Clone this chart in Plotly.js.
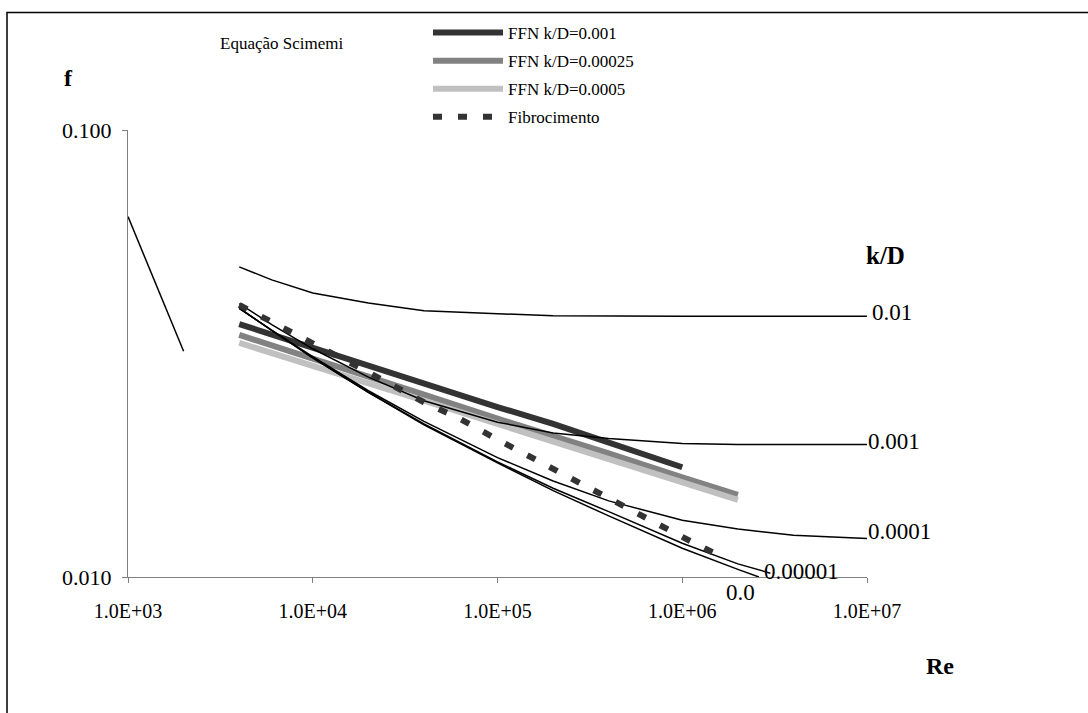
<!DOCTYPE html>
<html><head><meta charset="utf-8">
<script src="https://cdn.plot.ly/plotly-3.0.1.min.js"></script>
<style>html,body{margin:0;padding:0;background:#fff}</style>
</head><body>
<div id="chart" style="width:1088px;height:713px"></div>
<script>
// ---- data (Re, f) ----
var reLam = [1000, 2000];
var fLam = [0.064, 0.032];

var re01 = [4000, 6000, 10000, 20000, 40000, 80000, 200000, 1000000, 10000000];
var f01 = [0.0494, 0.0462, 0.0432, 0.0410, 0.0394, 0.0390, 0.0384, 0.0383, 0.0383];

var re001 = [4000, 6000, 10000, 20000, 40000, 100000, 200000, 400000, 1000000, 2000000, 10000000];
var f001 = [0.0409, 0.0367, 0.0324, 0.0280, 0.0248, 0.0222, 0.0210, 0.0204, 0.0199, 0.0198, 0.0198];

var re0001 = [4000, 6000, 10000, 20000, 40000, 100000, 200000, 400000, 1000000, 2000000, 4000000, 10000000];
var f0001 = [0.0400, 0.0356, 0.0311, 0.0261, 0.0223, 0.0185, 0.0164, 0.0148, 0.0134, 0.0128, 0.0124, 0.0122];

var re00001 = [4000, 6000, 10000, 20000, 40000, 100000, 200000, 400000, 1000000, 2000000, 3000000];
var f00001 = [0.0399, 0.0356, 0.0309, 0.0259, 0.0220, 0.0181, 0.0158, 0.0140, 0.0119, 0.0107, 0.0102];

var reSmooth = [4000, 6000, 10000, 20000, 40000, 100000, 200000, 400000, 1000000, 2000000, 2600000];
var fSmooth = [0.0399, 0.0356, 0.0309, 0.0259, 0.0219, 0.0180, 0.0156, 0.0137, 0.0116, 0.0104, 0.0100];

var reFFN1 = [4000, 10000, 20000, 40000, 80000, 100000, 200000, 400000, 1000000];
var fFFN1 = [0.0368, 0.0326, 0.0297, 0.0271, 0.0246, 0.0240, 0.0220, 0.0200, 0.0176];

var reFFN2 = [4000, 10000, 20000, 40000, 100000, 200000, 400000, 1000000, 2000000];
var fFFN2 = [0.0348, 0.0307, 0.0281, 0.0256, 0.0226, 0.0207, 0.0189, 0.0167, 0.01526];

var reFFN3 = [4000, 8000, 10000, 20000, 40000, 100000, 200000, 400000, 1000000, 2000000];
var fFFN3 = [0.0334, 0.0306, 0.0296, 0.0272, 0.0248, 0.0220, 0.0201, 0.01836, 0.01627, 0.01487];

var reFib = [4000, 6000, 10000, 20000, 40000, 60000, 100000, 200000, 400000, 600000, 1000000, 1600000];
var fFib = [0.0406, 0.0372, 0.0336, 0.0287, 0.0246, 0.0228, 0.0203, 0.01744, 0.01494, 0.01376, 0.01229, 0.01114];

var xTickVals = [1000, 10000, 100000, 1000000, 10000000];
var xTickText = ['1.0E+03', '1.0E+04', '1.0E+05', '1.0E+06', '1.0E+07'];
var yTickVals = [0.01, 0.1];
var yTickText = ['0.010', '0.100'];

var FONT = '"Liberation Serif", "Times New Roman", serif';

function thick(name, x, y, color, grp) {
  return {x: x, y: y, name: name, mode: 'lines', legendgroup: grp,
    line: {color: color, width: 6}, hoverinfo: 'skip'};
}
function thin(x, y) {
  return {x: x, y: y, mode: 'lines', showlegend: false,
    line: {color: '#000', width: 1.5}, hoverinfo: 'skip'};
}

var traces = [
  thick('FFN k/D=0.001', reFFN1, fFFN1, '#333333', 'a'),
  thick('FFN k/D=0.00025', reFFN2, fFFN2, '#828282', 'b'),
  thick('FFN k/D=0.0005', reFFN3, fFFN3, '#c0c0c0', 'c'),
  thin(reLam, fLam),
  thin(re01, f01),
  thin(re001, f001),
  thin(re0001, f0001),
  thin(re00001, f00001),
  thin(reSmooth, fSmooth),
  {x: reFib, y: fFib, name: 'Fibrocimento', mode: 'lines', legendgroup: 'd',
    line: {color: '#333333', width: 6, dash: '9px,16px'}, hoverinfo: 'skip'}
];

function px(p) { return (p - 128) / 739; }
function py(p) { return (577 - p) / 447; }
function ann(text, x, y, xa, size, bold) {
  return {text: bold ? '<b>' + text + '</b>' : text, xref: 'paper', yref: 'paper',
    x: px(x), y: py(y), xanchor: xa, yanchor: 'middle', showarrow: false,
    font: {family: FONT, size: size, color: '#000'}};
}

var layout = {
  width: 1088, height: 713,
  margin: {l: 128, r: 221, t: 130, b: 136},
  paper_bgcolor: '#fff', plot_bgcolor: '#fff',
  font: {family: FONT, size: 17, color: '#000'},
  xaxis: {type: 'log', range: [3, 7], tickvals: xTickVals, ticktext: xTickText,
    showgrid: false, zeroline: false, showline: true, linecolor: '#808080', linewidth: 1,
    ticks: 'outside', ticklen: 5, tickcolor: '#808080', ticklabelstandoff: 11,
    tickfont: {family: FONT, size: 20, color: '#000'}},
  yaxis: {type: 'log', range: [-2, -1], tickvals: yTickVals, ticktext: yTickText,
    showgrid: false, zeroline: false, showline: true, linecolor: '#808080', linewidth: 1,
    ticks: 'outside', ticklen: 5, tickcolor: '#808080', ticklabelstandoff: 6,
    tickfont: {family: FONT, size: 22, color: '#000'}},
  showlegend: true,
  legend: {x: px(428), y: py(15), xanchor: 'left', yanchor: 'top',
    bgcolor: 'rgba(0,0,0,0)', traceorder: 'grouped', tracegroupgap: 3, itemwidth: 70,
    font: {family: FONT, size: 17, color: '#000'}},
  shapes: [
    {type: 'rect', xref: 'paper', yref: 'paper', x0: px(7), x1: px(1100), y0: py(725), y1: py(12.5),
      line: {color: '#000', width: 1.5}, fillcolor: 'rgba(0,0,0,0)', layer: 'below'}
  ],
  annotations: [
    ann('f', 68, 78, 'center', 24, true),
    ann('Equação Scimemi', 218, 44, 'left', 17, false),
    ann('k/D', 885, 255, 'center', 25, true),
    ann('0.01', 870, 312, 'left', 23, false),
    ann('0.001', 866, 441, 'left', 23, false),
    ann('0.0001', 866, 531, 'left', 23, false),
    ann('0.00001', 762, 571, 'left', 23, false),
    ann('0.0', 740, 592, 'center', 23, false),
    ann('Re', 940, 666, 'center', 24, true)
  ]
};

Plotly.newPlot('chart', traces, layout, {staticPlot: true, displayModeBar: false});
</script></body></html>
